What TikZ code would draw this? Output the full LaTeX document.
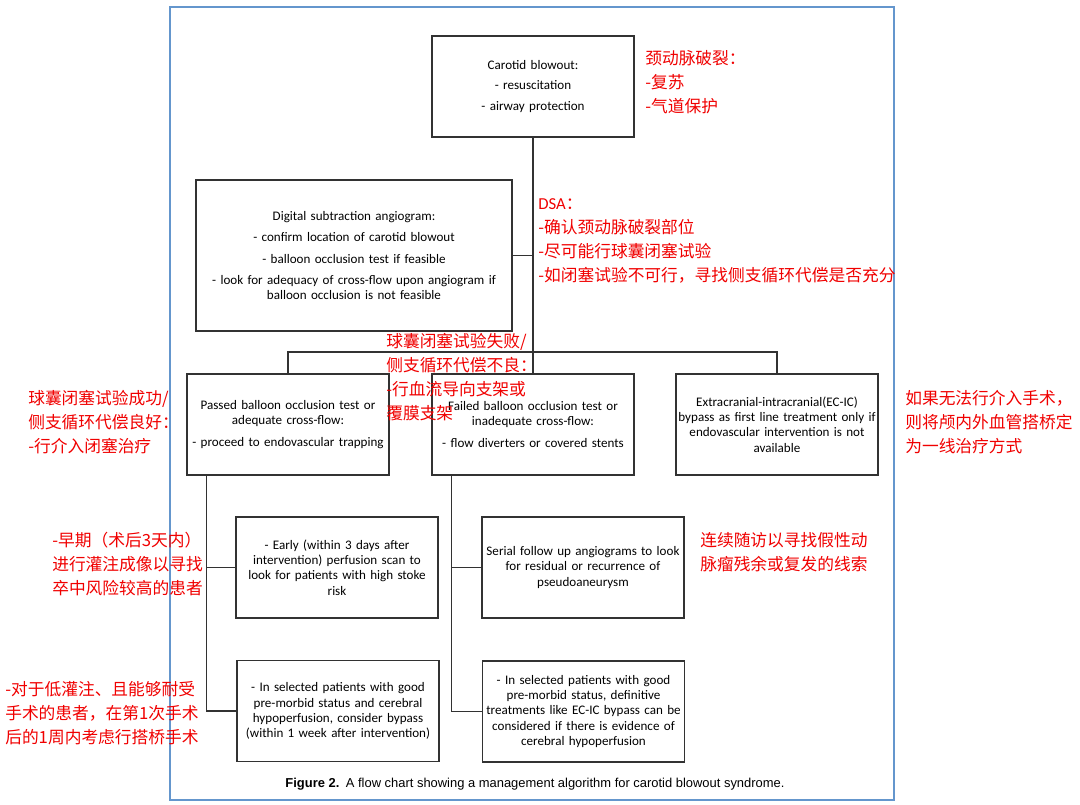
\documentclass[tikz,border=0pt]{standalone}
\usepackage{fontspec}
\setmainfont{Carlito}
\newfontfamily\cjk{Noto Sans CJK SC}
\newfontfamily\capfont{Liberation Sans}
\usetikzlibrary{calc}
\definecolor{frameblue}{RGB}{100,150,205}
\definecolor{notered}{RGB}{240,0,0}
\definecolor{boxline}{RGB}{50,50,50}

\begin{document}
\begin{tikzpicture}[x=0.025cm, y=-0.025cm,
  box/.style={draw=boxline, line width=0.9pt, align=center, inner sep=1pt,
    minimum height=2.525cm, font=\fontsize{9.3}{10.8}\selectfont},
  wbox/.style={box, text width=4.95cm, minimum width=5.05cm},
  link/.style={draw=boxline, line width=0.9pt},
  note/.style={text=notered, align=left, anchor=base west, inner sep=0pt,
    font=\cjk\fontsize{11.9}{16.9}\selectfont}]

\useasboundingbox (0,0) rectangle (1080,804);

%---------------------------------------
% Figure frame
%---------------------------------------
\draw[frameblue, line width=0.9pt] (170,7) rectangle (894,800);

%---------------------------------------
% Boxes
%---------------------------------------
\node[wbox] (blowout) at (533,86.5)
  {Carotid blowout:\\[4.1pt] - resuscitation\\[4.1pt] - airway protection};
\node[box, text width=7.8cm, minimum width=7.9cm, minimum height=3.775cm] (dsa) at (354,255.5)
  {Digital subtraction angiogram:\\[4.4pt]
   - confirm location of carotid blowout\\[4.4pt]
   - balloon occlusion test if feasible\\[4.4pt]
   - look for adequacy of cross-flow upon angiogram if\\
   balloon occlusion is not feasible};

% Second row
\node[wbox] (passed) at (288,424.5)
  {Passed balloon occlusion test or\\ adequate cross-flow:\\[4.8pt]
   - proceed to endovascular trapping};
\node[wbox] (failed) at (533,424.5)
  {Failed balloon occlusion test or\\ inadequate cross-flow:\\[4.8pt]
   - flow diverters or covered stents};
\node[wbox] (ecic) at (777,424.5)
  {Extracranial-intracranial(EC-IC)\\ bypass as first line treatment only if\\
   endovascular intervention is not\\ available};

% Follow-up boxes
\node[wbox] (earlyscan) at (337,567.5)
  {- Early (within 3 days after\\ intervention) perfusion scan to\\
   look for patients with high stoke\\ risk};
\node[wbox] (followup) at (583,567.5)
  {Serial follow up angiograms to look\\ for residual or recurrence of\\ pseudoaneurysm};
\node[wbox] (bypassA) at (338,711)
  {- In selected patients with good\\ pre-morbid status and cerebral\\
   hypoperfusion, consider bypass\\ (within 1 week after intervention)};
\node[wbox] (bypassB) at (583.5,711.5)
  {- In selected patients with good\\ pre-morbid status, definitive\\
   treatments like EC-IC bypass can be\\ considered if there is evidence of\\
   cerebral hypoperfusion};

%---------------------------------------
% Connectors
%---------------------------------------
\coordinate (split) at (533,352);
\draw[link] (blowout.south) -- (failed.north);
\draw[link] (dsa.east) -- (dsa.east -| blowout.south);
\draw[link] (passed.north) |- (split) -| (ecic.north);

\coordinate (ltrunk) at ($(passed.south west)+(20,0)$);
\draw[link] (ltrunk) |- (bypassA.west);
\draw[link] (ltrunk |- earlyscan.west) -- (earlyscan.west);

\coordinate (mtrunk) at ($(failed.south west)+(20,0)$);
\draw[link] (mtrunk) |- (bypassB.west);
\draw[link] (mtrunk |- followup.west) -- (followup.west);

% Caption
\node[font=\capfont\fontsize{9.2}{11}\selectfont] (caption) at (535,784)
  {\textbf{Figure 2.}\enspace A flow chart showing a management algorithm for carotid blowout syndrome.};

%---------------------------------------
% Red notes (anchored at the baseline of their last line)
%---------------------------------------
\node[note] (noteblowout) at (645,112) {颈动脉破裂：\\-复苏\\-气道保护};
\node[note] (notedsa) at (538,281)
  {{\rmfamily DSA}：\\-确认颈动脉破裂部位\\-尽可能行球囊闭塞试验\\-如闭塞试验不可行，寻找侧支循环代偿是否充分};
\node[note] (notefailed) at (386,419)
  {球囊闭塞试验失败/\\侧支循环代偿不良：\\-行血流导向支架或\\覆膜支架};
\node[note] (notepassed) at (28,452)
  {球囊闭塞试验成功/\\侧支循环代偿良好：\\-行介入闭塞治疗};
\node[note] (noteecic) at (905,452)
  {如果无法行介入手术，\\则将颅内外血管搭桥定\\为一线治疗方式};
\node[note] (noteearly) at (52,594)
  {-早期（术后3天内）\\进行灌注成像以寻找\\卒中风险较高的患者};
\node[note] (notefollow) at (700,570)
  {连续随访以寻找假性动\\脉瘤残余或复发的线索};
\node[note] (notebypass) at (5,743)
  {-对于低灌注、且能够耐受\\手术的患者，在第1次手术\\后的1周内考虑行搭桥手术};

\end{tikzpicture}
\end{document}
